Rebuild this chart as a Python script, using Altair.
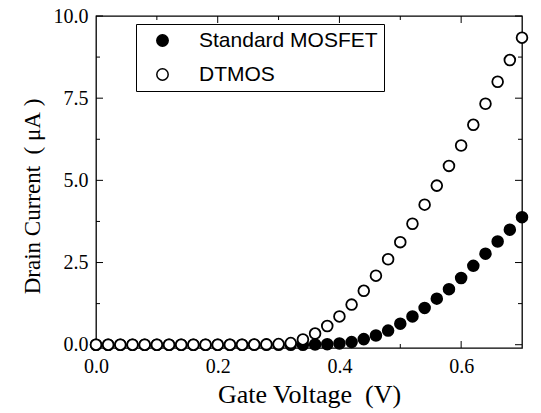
import altair as alt
import pandas as pd

# ---- data ----
gate_voltage = [round(0.02 * i, 2) for i in range(36)]  # 0.00 .. 0.70 V
dtmos = [0.0, 0.0, 0.0, 0.0, 0.0, 0.0, 0.0, 0.0, 0.0, 0.0,
         0.0, 0.0, 0.0, 0.005, 0.01, 0.02, 0.05, 0.16, 0.34, 0.57,
         0.86, 1.22, 1.64, 2.10, 2.60, 3.12, 3.68, 4.26, 4.84, 5.44,
         6.06, 6.69, 7.33, 8.00, 8.66, 9.34]
standard = [0.0, 0.0, 0.0, 0.0, 0.0, 0.0, 0.0, 0.0, 0.0, 0.0,
            0.0, 0.0, 0.0, 0.0, 0.0, 0.0, 0.0, 0.0, 0.005, 0.015,
            0.04, 0.08, 0.17, 0.28, 0.43, 0.64, 0.86, 1.12, 1.40, 1.69,
            2.03, 2.40, 2.77, 3.14, 3.50, 3.88]
series_names = ["Standard MOSFET", "DTMOS"]

x_labels = [0.0, 0.2, 0.4, 0.6]
x_major = [0.2, 0.4, 0.6]
x_minor = [0.1, 0.3, 0.5]
y_major = [0.0, 2.5, 5.0, 7.5, 10.0]
y_minor = [1.25, 3.75, 6.25, 8.75]

x_title = "Gate Voltage\u00a0\u00a0(V)"
y_title = "Drain Current\u00a0\u00a0(\u00a0μA\u00a0)"

W, H = 426, 332

rows = []
for xv, yv in zip(gate_voltage, standard):
    rows.append({"vg": xv, "id": yv, "series": series_names[0]})
for xv, yv in zip(gate_voltage, dtmos):
    rows.append({"vg": xv, "id": yv, "series": series_names[1]})
df = pd.DataFrame(rows)

xscale = alt.Scale(domain=[0, 0.7], nice=False, zero=False)
yscale = alt.Scale(domain=[-0.1, 10], nice=False, zero=False)
serif = "Liberation Serif"

xaxis = alt.Axis(values=x_labels, format=".1f", ticks=False, grid=False,
                 domain=False, labelFont=serif, labelFontSize=20, labelColor="black",
                 labelPadding=8, labelFlush=False, title=x_title, titleFont=serif,
                 titleFontSize=26, titleFontWeight="normal", titleColor="black",
                 titlePadding=5)
yaxis = alt.Axis(values=y_major, format=".1f", ticks=False, grid=False,
                 domain=False, labelFont=serif, labelFontSize=20, labelColor="black",
                 labelPadding=8, labelFlush=False, title=y_title, titleFont=serif,
                 titleFontSize=23, titleFontWeight="normal", titleColor="black",
                 titleX=-64, titleY=180, titleBaseline="middle", titleAngle=270)

points = alt.Chart(df).mark_point(
    shape="circle", size=115, strokeWidth=1.8, stroke="black", opacity=1, filled=True
).encode(
    x=alt.X("vg:Q", scale=xscale, axis=xaxis),
    y=alt.Y("id:Q", scale=yscale, axis=yaxis),
    fill=alt.Fill("series:N", scale=alt.Scale(domain=series_names, range=["black", "white"]),
                  sort=series_names,
                  legend=alt.Legend(title=None, orient="none", legendX=40, legendY=8,
                                    strokeColor="black", fillColor="white", padding=6,
                                    labelFont="Liberation Sans", labelFontSize=21,
                                    labelColor="black", labelLimit=400,
                                    symbolType="circle", symbolSize=130,
                                    symbolStrokeColor="black", symbolStrokeWidth=1.5,
                                    symbolOffset=10, labelOffset=26, rowPadding=12,
                                    labelExpr="datum.label + '   '")),
)

def tick_df(vals):
    return pd.DataFrame({"v": vals})

def ticks_y(vals, length):
    base = alt.Chart(tick_df(vals)).mark_rule(color="black", strokeWidth=1)
    left = base.encode(y=alt.Y("v:Q", scale=yscale, axis=yaxis), x=alt.value(0), x2=alt.value(length))
    right = base.encode(y=alt.Y("v:Q", scale=yscale, axis=yaxis), x=alt.value(W - length), x2=alt.value(W))
    return [left, right]

def ticks_x(vals, length):
    base = alt.Chart(tick_df(vals)).mark_rule(color="black", strokeWidth=1)
    bottom = base.encode(x=alt.X("v:Q", scale=xscale, axis=xaxis), y=alt.value(H - length), y2=alt.value(H))
    top = base.encode(x=alt.X("v:Q", scale=xscale, axis=xaxis), y=alt.value(0), y2=alt.value(length))
    return [bottom, top]

layers = ticks_y(y_major, 7) + ticks_y(y_minor, 4) + ticks_x(x_major, 7) + ticks_x(x_minor, 4) + [points]

chart = alt.layer(*layers).properties(
    width=W, height=H,
    autosize=alt.AutoSizeParams(type="none"),
    padding={"left": 96, "top": 16, "right": 19, "bottom": 65},
    background="white",
).configure_view(stroke="black", strokeWidth=1.3)

chart.save("out.html", embed_options={"renderer": "svg", "actions": False})
